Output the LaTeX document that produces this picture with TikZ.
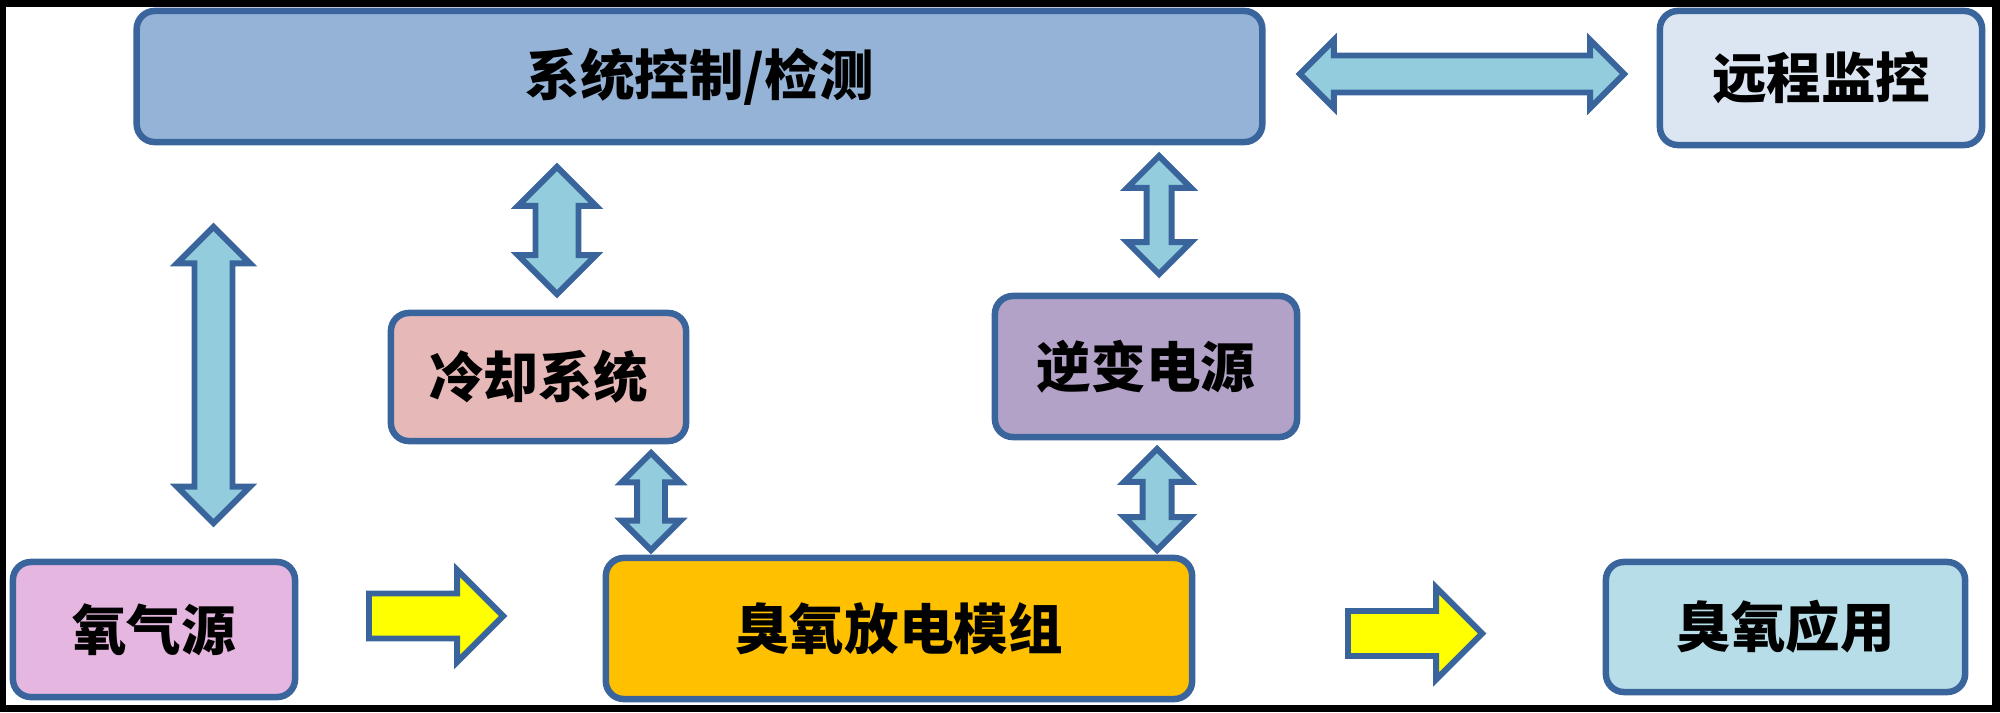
\documentclass[tikz,border=0pt]{standalone}
\usepackage{fontspec}
\newfontfamily\cjk{Noto Sans CJK SC}
\usepackage{tikz}
\usetikzlibrary{shapes.arrows}
\definecolor{boxline}{HTML}{3A659C}
\definecolor{arrowblue}{HTML}{93CDDD}
\definecolor{sysfill}{HTML}{95B3D7}
\definecolor{remotefill}{HTML}{DCE6F2}
\definecolor{coolfill}{HTML}{E6B9B8}
\definecolor{invfill}{HTML}{B3A2C7}
\definecolor{oxyfill}{HTML}{E4B6E0}
\definecolor{modfill}{HTML}{FFC000}
\definecolor{appfill}{HTML}{B7DDE8}
\definecolor{flowyellow}{HTML}{FFFF00}

\tikzset{
    blk/.style={draw=boxline, line width=1.85pt, rounded corners=0.18cm, inner sep=0pt,
        font=\cjk\bfseries\fontsize{15.5}{18}\selectfont},
    fatdbl/.style n args={3}{double arrow, draw=boxline, fill=arrowblue, line width=1.7pt,
        inner xsep=0pt, inner ysep=#1, double arrow head extend=#2, minimum height=#3,
        minimum width=1pt},
    fatflow/.style={single arrow, draw=boxline, fill=flowyellow, line width=1.7pt,
        inner xsep=0pt, inner ysep=0.195cm, single arrow head extend=0.235cm,
        minimum height=1.34cm, minimum width=1pt, anchor=tail}
}

\begin{document}
\begin{tikzpicture}[x=0.01cm, y=-0.01cm]
    \useasboundingbox (0,0) rectangle (2000,712);
    % frame
    \fill[black] (0,0) rectangle (2000,712);
    \fill[white] (6,7) rectangle (1992,705);

    % blocks
    \node[blk, fill=sysfill, minimum width=11.25cm, minimum height=1.31cm] (sys) at (699.5,76.5) {系统控制/检测};
    \node[blk, fill=remotefill, minimum width=3.22cm, minimum height=1.34cm] (remote) at (1821,78) {远程监控};
    \node[blk, fill=coolfill, minimum width=2.95cm, minimum height=1.28cm] (cool) at (538.5,377) {冷却系统};
    \node[blk, fill=invfill, minimum width=3.02cm, minimum height=1.41cm] (inverter) at (1146,366.5) {逆变电源};
    \node[blk, fill=oxyfill, minimum width=2.82cm, minimum height=1.35cm] (oxygen) at (154,629.5) {氧气源};
    \node[blk, fill=modfill, minimum width=5.86cm, minimum height=1.41cm] (module) at (899,628.5) {臭氧放电模组};
    \node[blk, fill=appfill, minimum width=3.59cm, minimum height=1.30cm] (app) at (1785.5,627) {臭氧应用};

    % two-way links
    \node[fatdbl={0.155cm}{0.155cm}{3.24cm}] (sys-remote) at (1462,74) {};
    \node[fatdbl={0.16cm}{0.175cm}{2.96cm}, rotate=90] (sys-oxygen) at (213.5,375) {};
    \node[fatdbl={0.185cm}{0.175cm}{1.27cm}, rotate=90] (sys-cool) at (557,230.5) {};
    \node[fatdbl={0.095cm}{0.195cm}{1.18cm}, rotate=90] (sys-inverter) at (1159,215) {};
    \node[fatdbl={0.11cm}{0.155cm}{0.97cm}, rotate=90] (cool-module) at (651,501.5) {};
    \node[fatdbl={0.115cm}{0.185cm}{1.01cm}, rotate=90] (inverter-module) at (1157,499.5) {};

    % gas flow
    \node[fatflow] (oxygen-module) at (366,616) {};
    \node[fatflow] (module-app) at (1345,633.5) {};
\end{tikzpicture}
\end{document}
